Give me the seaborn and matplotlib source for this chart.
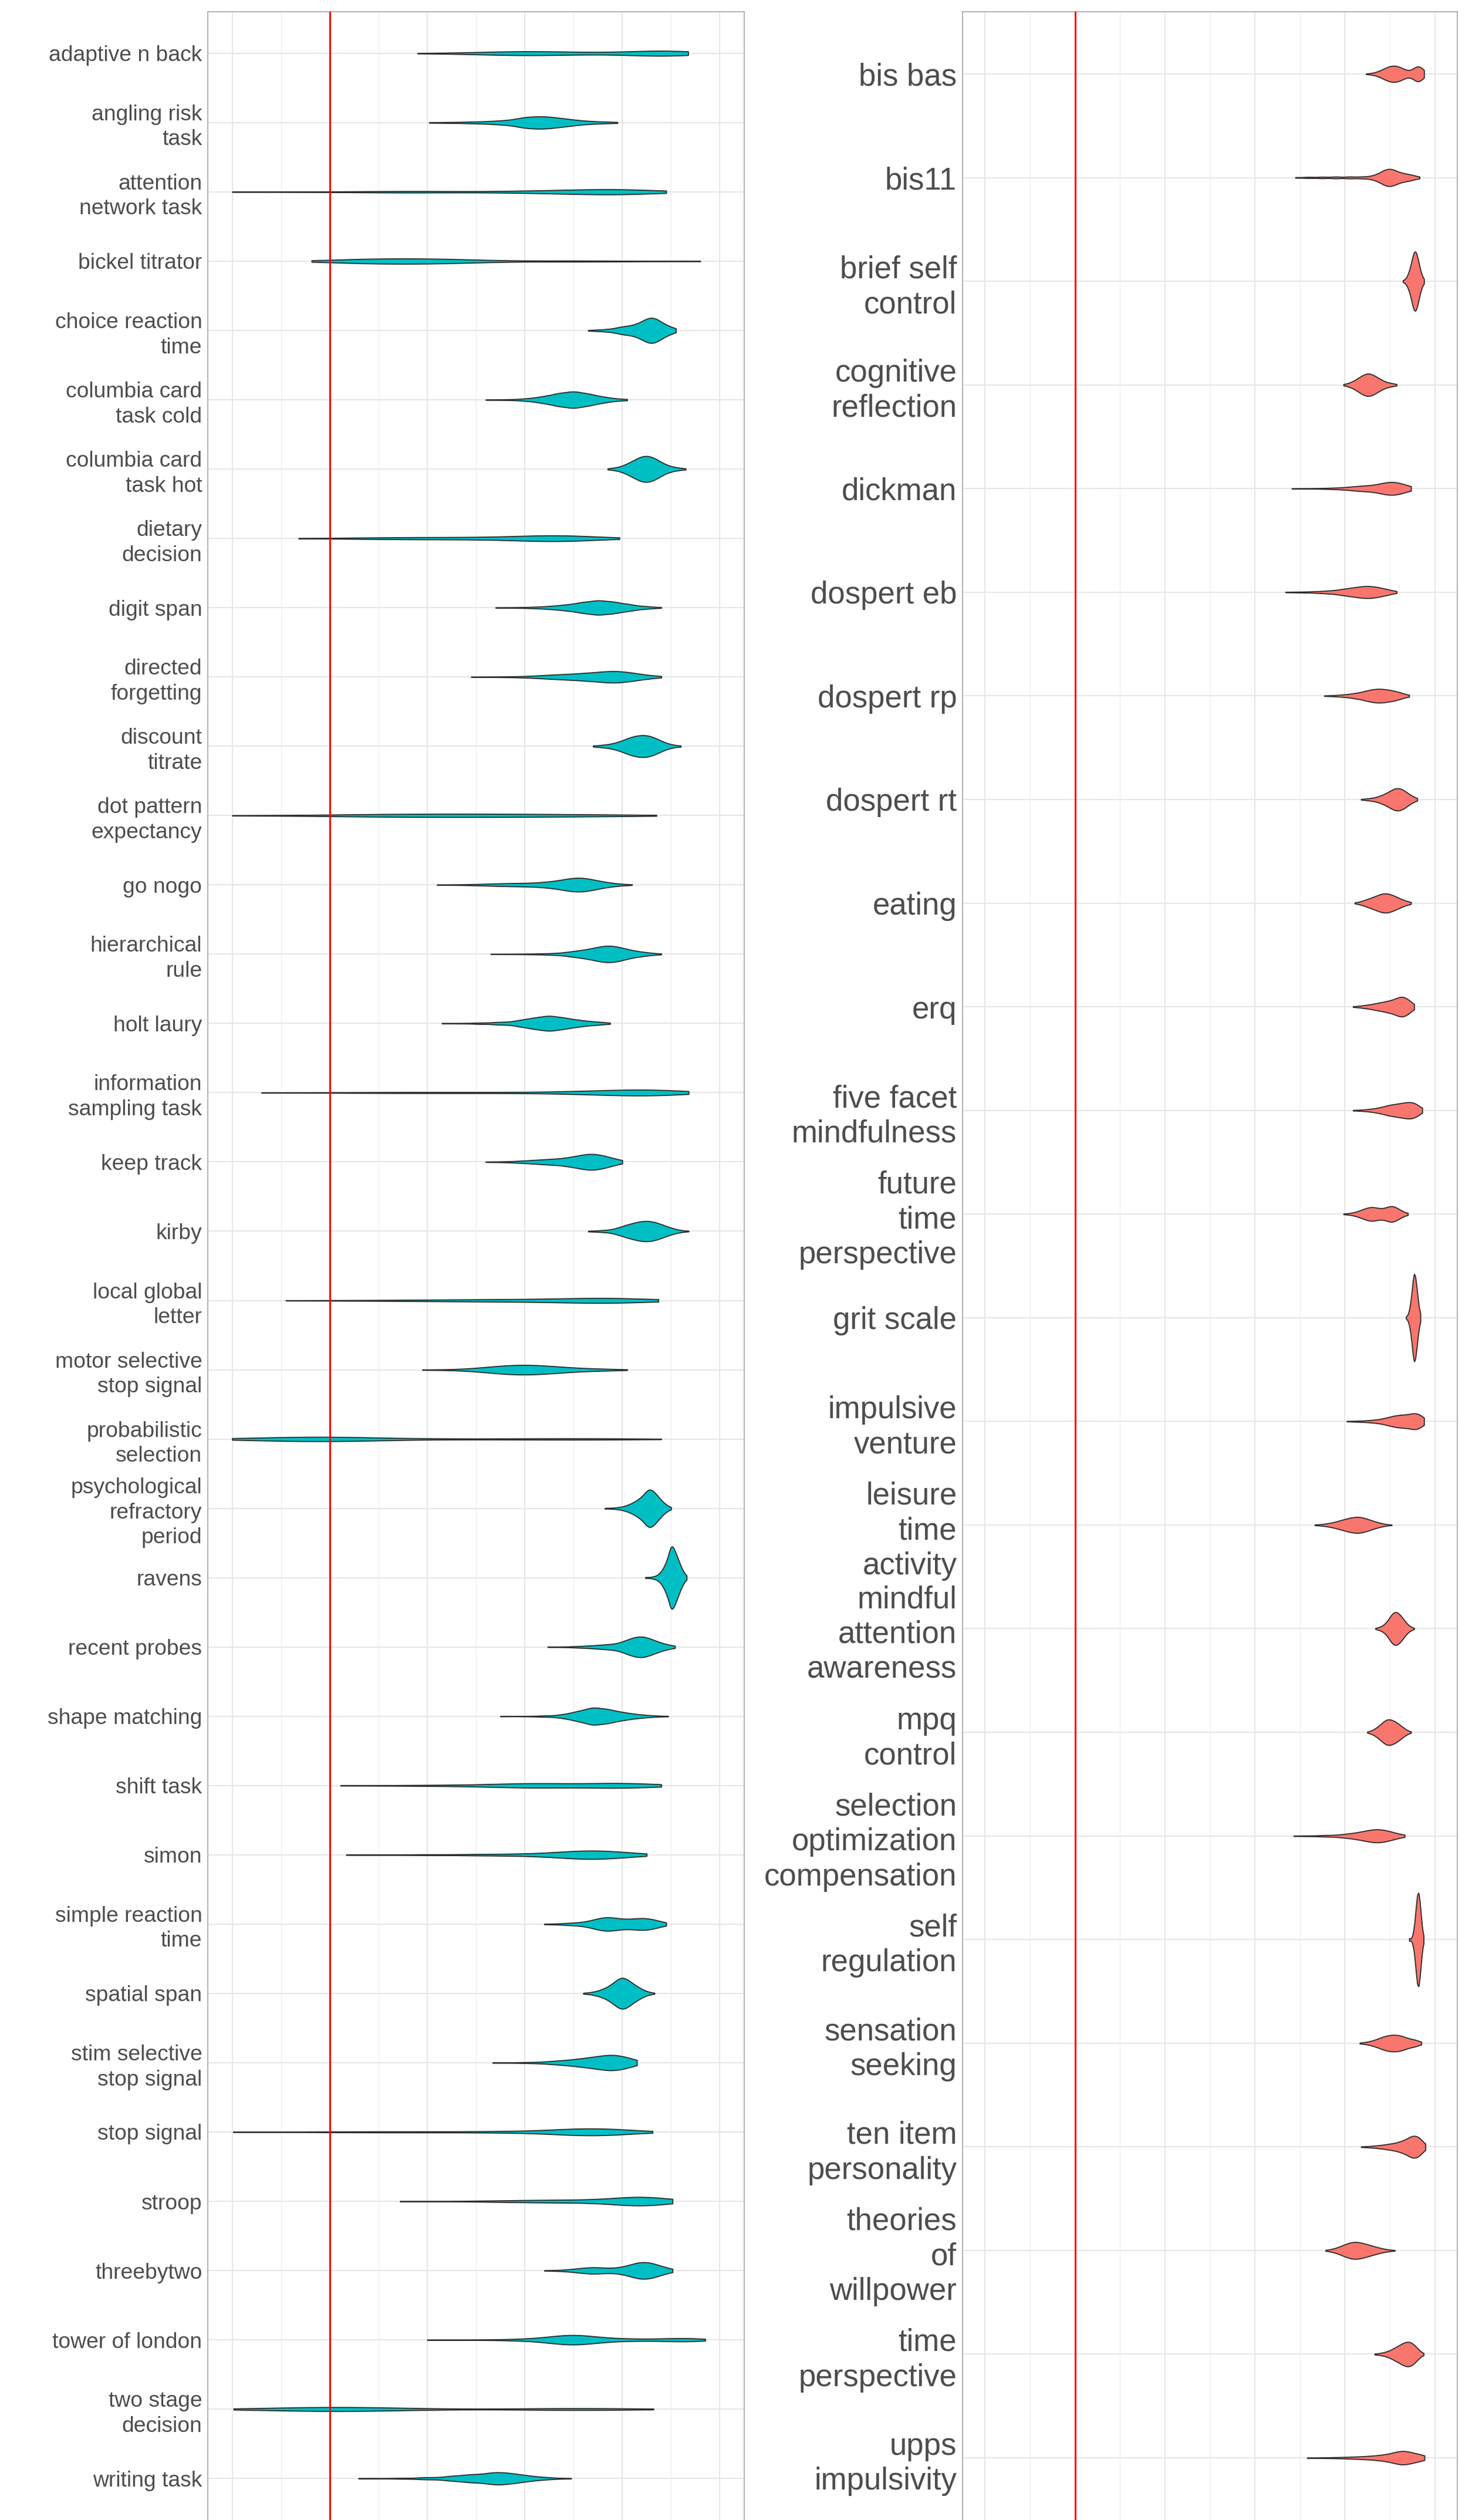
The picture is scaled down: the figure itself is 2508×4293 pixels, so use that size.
#!/usr/bin/env python3
"""
Violin plots of per-measure estimates: behavioural tasks (left) and surveys (right),
with a red reference line at zero.
"""

import numpy as np
import pandas as pd
import matplotlib
matplotlib.use("Agg")
import matplotlib.pyplot as plt
import seaborn as sns

# ─── Data ────────────────────────────────────────────────────────────────────
# each violin is given as (value, count) pairs
TASKS = [
    "adaptive n back", "angling risk task", "attention network task", "bickel titrator",
    "choice reaction time", "columbia card task cold", "columbia card task hot",
    "dietary decision", "digit span", "directed forgetting", "discount titrate",
    "dot pattern expectancy", "go nogo", "hierarchical rule", "holt laury",
    "information sampling task", "keep track", "kirby", "local global letter",
    "motor selective stop signal", "probabilistic selection",
    "psychological refractory period", "ravens", "recent probes", "shape matching",
    "shift task", "simon", "simple reaction time", "spatial span",
    "stim selective stop signal", "stop signal", "stroop", "threebytwo",
    "tower of london", "two stage decision", "writing task",
]
TASK_LABELS = [
    "adaptive n back", "angling risk\ntask", "attention\nnetwork task", "bickel titrator",
    "choice reaction\ntime", "columbia card\ntask cold", "columbia card\ntask hot",
    "dietary\ndecision", "digit span", "directed\nforgetting", "discount\ntitrate",
    "dot pattern\nexpectancy", "go nogo", "hierarchical\nrule", "holt laury",
    "information\nsampling task", "keep track", "kirby", "local global\nletter",
    "motor selective\nstop signal", "probabilistic\nselection",
    "psychological\nrefractory\nperiod", "ravens", "recent probes", "shape matching",
    "shift task", "simon", "simple reaction\ntime", "spatial span",
    "stim selective\nstop signal", "stop signal", "stroop", "threebytwo",
    "tower of london", "two stage\ndecision", "writing task",
]
TASK_PROFILES = [
    [(0.18, 1), (0.25, 2), (0.30, 4), (0.35, 7), (0.40, 10), (0.45, 8), (0.50, 5), (0.55, 4), (0.60, 4), (0.64, 4), (0.665, 7), (0.685, 9), (0.71, 7), (0.735, 4)],
    [(0.204, 1), (0.25, 2), (0.30, 4), (0.35, 8), (0.40, 20), (0.44, 22), (0.48, 14), (0.52, 6), (0.56, 3), (0.59, 1)],
    [(-0.2, 1), (-0.1, 1), (0.0, 2), (0.1, 3), (0.17, 4), (0.25, 3), (0.35, 3), (0.42, 6), (0.5, 10), (0.57, 12), (0.62, 8), (0.66, 4), (0.69, 1)],
    [(-0.037, 1), (0.0, 4), (0.05, 8), (0.1, 10), (0.15, 10), (0.2, 10), (0.25, 8), (0.3, 5), (0.35, 3), (0.45, 3), (0.52, 3), (0.6, 2), (0.7, 1), (0.76, 1)],
    [(0.53, 1), (0.545, 2), (0.56, 3), (0.575, 5), (0.59, 7), (0.60, 8), (0.61, 9), (0.62, 10), (0.63, 13), (0.64, 18), (0.65, 24), (0.66, 28), (0.67, 24), (0.68, 17), (0.69, 11), (0.70, 7), (0.71, 4)],
    [(0.32, 1), (0.35, 1), (0.38, 2), (0.41, 6), (0.44, 14), (0.47, 26), (0.50, 34), (0.53, 24), (0.56, 12), (0.59, 4), (0.61, 1)],
    [(0.57, 1), (0.58, 2), (0.59, 3), (0.60, 6), (0.61, 10), (0.62, 15), (0.63, 20), (0.64, 25), (0.65, 26), (0.66, 24), (0.67, 19), (0.68, 13), (0.69, 8), (0.70, 5), (0.71, 3), (0.72, 2), (0.73, 1)],
    [(-0.064, 1), (0.0, 1), (0.05, 2), (0.1, 3), (0.15, 4), (0.2, 4), (0.25, 4), (0.3, 4), (0.35, 5), (0.40, 8), (0.45, 14), (0.5, 12), (0.55, 4), (0.594, 1)],
    [(0.34, 1), (0.37, 1), (0.40, 2), (0.43, 4), (0.46, 8), (0.49, 14), (0.52, 24), (0.55, 32), (0.58, 26), (0.61, 16), (0.64, 6), (0.66, 2), (0.68, 1)],
    [(0.29, 1), (0.33, 1), (0.37, 2), (0.41, 4), (0.45, 10), (0.49, 14), (0.53, 20), (0.57, 26), (0.60, 22), (0.63, 12), (0.66, 4), (0.68, 1)],
    [(0.54, 1), (0.55, 2), (0.56, 3), (0.57, 4), (0.58, 6), (0.59, 9), (0.60, 13), (0.61, 18), (0.62, 22), (0.63, 25), (0.64, 26), (0.65, 26), (0.66, 23), (0.67, 18), (0.68, 12), (0.69, 7), (0.70, 4), (0.71, 2), (0.72, 1)],
    [(-0.2, 1), (-0.15, 1), (-0.1, 1), (-0.05, 2), (0.0, 2), (0.05, 4), (0.1, 6), (0.15, 6), (0.2, 6), (0.25, 6), (0.3, 6), (0.35, 6), (0.4, 6), (0.45, 5), (0.5, 4), (0.55, 4), (0.6, 3), (0.65, 2), (0.67, 1)],
    [(0.22, 1), (0.25, 1), (0.28, 2), (0.31, 4), (0.34, 6), (0.37, 8), (0.40, 9), (0.43, 9), (0.45, 10), (0.47, 13), (0.49, 22), (0.51, 28), (0.53, 22), (0.55, 13), (0.57, 7), (0.59, 4), (0.62, 1)],
    [(0.33, 1), (0.37, 1), (0.41, 2), (0.45, 4), (0.49, 10), (0.52, 18), (0.55, 28), (0.575, 34), (0.60, 24), (0.63, 12), (0.655, 4), (0.68, 1)],
    [(0.23, 1), (0.27, 1), (0.31, 3), (0.35, 6), (0.39, 12), (0.42, 20), (0.45, 28), (0.48, 20), (0.51, 12), (0.54, 6), (0.56, 2), (0.575, 1)],
    [(-0.14, 1), (-0.05, 1), (0.05, 2), (0.15, 3), (0.25, 3), (0.35, 3), (0.45, 4), (0.52, 6), (0.58, 8), (0.63, 10), (0.68, 8), (0.71, 4), (0.736, 1)],
    [(0.32, 1), (0.35, 1), (0.38, 3), (0.41, 6), (0.44, 10), (0.47, 12), (0.50, 20), (0.53, 32), (0.555, 22), (0.575, 10), (0.59, 4), (0.60, 1)],
    [(0.53, 1), (0.545, 2), (0.56, 3), (0.575, 5), (0.59, 8), (0.60, 11), (0.61, 14), (0.62, 17), (0.63, 20), (0.64, 22), (0.65, 23), (0.66, 22), (0.67, 19), (0.68, 15), (0.69, 11), (0.70, 7), (0.71, 4), (0.72, 2), (0.736, 1)],
    [(-0.09, 1), (0.0, 1), (0.1, 2), (0.2, 4), (0.3, 5), (0.38, 5), (0.45, 4), (0.5, 5), (0.55, 8), (0.59, 8), (0.63, 4), (0.674, 1)],
    [(0.19, 1), (0.23, 1), (0.27, 3), (0.31, 8), (0.35, 16), (0.39, 20), (0.43, 18), (0.47, 12), (0.51, 7), (0.55, 4), (0.58, 2), (0.61, 1)],
    [(-0.2, 1), (-0.15, 3), (-0.1, 6), (-0.05, 8), (0.0, 8), (0.05, 6), (0.1, 4), (0.2, 2), (0.3, 2), (0.4, 3), (0.5, 4), (0.58, 3), (0.68, 1)],
    [(0.564, 1), (0.572, 1), (0.58, 1), (0.588, 2), (0.596, 3), (0.604, 5), (0.612, 8), (0.62, 12), (0.628, 17), (0.636, 23), (0.644, 29), (0.651, 35), (0.657, 36), (0.663, 31), (0.669, 25), (0.675, 19), (0.681, 13), (0.687, 8), (0.693, 4), (0.70, 2)],
    [(0.647, 1), (0.652, 1), (0.657, 1), (0.662, 2), (0.667, 3), (0.672, 5), (0.677, 9), (0.682, 15), (0.687, 24), (0.692, 36), (0.697, 48), (0.701, 52), (0.705, 48), (0.709, 40), (0.713, 32), (0.717, 24), (0.721, 16), (0.725, 10), (0.729, 5), (0.732, 2)],
    [(0.447, 1), (0.48, 1), (0.51, 3), (0.54, 6), (0.57, 10), (0.60, 14), (0.62, 24), (0.64, 32), (0.66, 20), (0.68, 10), (0.70, 3), (0.708, 1)],
    [(0.35, 1), (0.40, 1), (0.44, 3), (0.48, 8), (0.51, 20), (0.54, 36), (0.57, 28), (0.60, 16), (0.63, 8), (0.66, 3), (0.694, 1)],
    [(0.022, 1), (0.1, 1), (0.2, 3), (0.3, 5), (0.38, 7), (0.42, 8), (0.47, 6), (0.53, 5), (0.58, 7), (0.61, 8), (0.65, 4), (0.68, 1)],
    [(0.034, 1), (0.1, 1), (0.2, 2), (0.3, 3), (0.38, 4), (0.45, 6), (0.5, 9), (0.54, 10), (0.58, 8), (0.62, 4), (0.65, 1)],
    [(0.44, 1), (0.47, 2), (0.50, 6), (0.53, 8), (0.55, 14), (0.567, 20), (0.585, 16), (0.605, 12), (0.625, 14), (0.645, 20), (0.665, 12), (0.68, 4), (0.69, 1)],
    [(0.52, 1), (0.528, 1), (0.536, 2), (0.544, 3), (0.552, 5), (0.56, 7), (0.568, 10), (0.576, 14), (0.584, 19), (0.592, 25), (0.60, 28), (0.608, 25), (0.616, 20), (0.624, 15), (0.632, 11), (0.64, 7), (0.648, 4), (0.656, 2), (0.666, 1)],
    [(0.334, 1), (0.37, 1), (0.41, 3), (0.45, 6), (0.48, 10), (0.51, 16), (0.54, 24), (0.57, 32), (0.595, 24), (0.615, 12), (0.63, 4)],
    [(-0.198, 1), (-0.1, 1), (0.0, 2), (0.1, 3), (0.2, 3), (0.3, 3), (0.38, 4), (0.45, 6), (0.5, 9), (0.54, 10), (0.58, 8), (0.62, 4), (0.662, 1)],
    [(0.144, 1), (0.22, 1), (0.3, 2), (0.36, 4), (0.42, 6), (0.48, 7), (0.54, 7), (0.59, 8), (0.62, 12), (0.645, 14), (0.67, 8), (0.69, 4), (0.703, 1)],
    [(0.44, 1), (0.47, 2), (0.50, 6), (0.525, 10), (0.546, 12), (0.57, 8), (0.595, 10), (0.62, 22), (0.643, 34), (0.665, 22), (0.685, 10), (0.703, 2)],
    [(0.2, 1), (0.27, 1), (0.33, 2), (0.39, 5), (0.44, 10), (0.48, 16), (0.50, 18), (0.53, 14), (0.57, 8), (0.61, 5), (0.65, 4), (0.69, 4), (0.72, 7), (0.745, 6), (0.77, 1)],
    [(-0.197, 2), (-0.15, 4), (-0.1, 8), (-0.05, 12), (0.0, 14), (0.05, 14), (0.1, 10), (0.15, 6), (0.2, 4), (0.3, 2), (0.4, 5), (0.48, 11), (0.55, 8), (0.62, 4), (0.664, 2)],
    [(0.059, 1), (0.1, 1), (0.15, 2), (0.2, 5), (0.25, 10), (0.29, 16), (0.33, 20), (0.36, 18), (0.39, 12), (0.42, 6), (0.45, 3), (0.495, 1)],
]

SURVEYS = [
    "bis bas", "bis11", "brief self control", "cognitive reflection", "dickman",
    "dospert eb", "dospert rp", "dospert rt", "eating", "erq",
    "five facet mindfulness", "future time perspective", "grit scale",
    "impulsive venture", "leisure time activity", "mindful attention awareness",
    "mpq control", "selection optimization compensation", "self regulation",
    "sensation seeking", "ten item personality", "theories of willpower",
    "time perspective", "upps impulsivity",
]
SURVEY_LABELS = [
    "bis bas", "bis11", "brief self\ncontrol", "cognitive\nreflection", "dickman",
    "dospert eb", "dospert rp", "dospert rt", "eating", "erq",
    "five facet\nmindfulness", "future\ntime\nperspective", "grit scale",
    "impulsive\nventure", "leisure\ntime\nactivity", "mindful\nattention\nawareness",
    "mpq\ncontrol", "selection\noptimization\ncompensation", "self\nregulation",
    "sensation\nseeking", "ten item\npersonality", "theories\nof\nwillpower",
    "time\nperspective", "upps\nimpulsivity",
]
SURVEY_PROFILES = [
    [(0.647, 1), (0.655, 2), (0.663, 4), (0.671, 8), (0.679, 14), (0.687, 22), (0.695, 30), (0.703, 35), (0.711, 36), (0.719, 33), (0.727, 25), (0.735, 15), (0.741, 8), (0.747, 5), (0.752, 9), (0.757, 22), (0.762, 30), (0.767, 26), (0.772, 14), (0.776, 5)],
    [(0.49, 2), (0.52, 4), (0.55, 5), (0.58, 6), (0.61, 6), (0.635, 5), (0.655, 5), (0.668, 8), (0.68, 14), (0.69, 22), (0.70, 25), (0.71, 20), (0.72, 12), (0.73, 10), (0.74, 10), (0.75, 6), (0.758, 3), (0.766, 1)],
    [(0.729, 1), (0.732, 2), (0.735, 3), (0.738, 6), (0.741, 10), (0.744, 15), (0.747, 22), (0.750, 30), (0.753, 37), (0.756, 40), (0.759, 37), (0.762, 30), (0.765, 22), (0.768, 14), (0.771, 8), (0.774, 4), (0.776, 2)],
    [(0.597, 1), (0.605, 2), (0.613, 4), (0.621, 7), (0.629, 11), (0.637, 15), (0.645, 19), (0.653, 20), (0.661, 18), (0.669, 14), (0.677, 10), (0.685, 7), (0.693, 4), (0.701, 3), (0.708, 2), (0.715, 1)],
    [(0.482, 1), (0.51, 1), (0.54, 2), (0.57, 4), (0.6, 7), (0.625, 11), (0.645, 12), (0.665, 14), (0.685, 20), (0.70, 24), (0.715, 22), (0.73, 13), (0.74, 6), (0.747, 2)],
    [(0.468, 1), (0.49, 2), (0.515, 3), (0.54, 5), (0.565, 9), (0.59, 14), (0.61, 19), (0.63, 24), (0.648, 26), (0.665, 22), (0.68, 15), (0.695, 9), (0.705, 4), (0.715, 1)],
    [(0.554, 1), (0.572, 2), (0.59, 4), (0.608, 7), (0.626, 12), (0.644, 18), (0.66, 23), (0.675, 25), (0.69, 23), (0.705, 18), (0.718, 12), (0.73, 6), (0.743, 2)],
    [(0.636, 1), (0.644, 2), (0.652, 3), (0.66, 4), (0.668, 6), (0.676, 9), (0.684, 13), (0.692, 18), (0.70, 24), (0.708, 30), (0.716, 34), (0.724, 32), (0.732, 26), (0.74, 18), (0.748, 10), (0.755, 5), (0.761, 2)],
    [(0.622, 1), (0.63, 3), (0.638, 6), (0.646, 10), (0.654, 14), (0.662, 18), (0.67, 22), (0.678, 27), (0.686, 30), (0.694, 30), (0.702, 27), (0.71, 22), (0.718, 17), (0.726, 12), (0.734, 7), (0.741, 4), (0.747, 2)],
    [(0.618, 1), (0.628, 2), (0.638, 4), (0.648, 6), (0.658, 8), (0.668, 11), (0.678, 14), (0.688, 17), (0.698, 20), (0.708, 24), (0.718, 28), (0.726, 30), (0.734, 27), (0.742, 18), (0.748, 9), (0.754, 3)],
    [(0.618, 1), (0.63, 2), (0.642, 3), (0.654, 5), (0.666, 8), (0.678, 12), (0.69, 16), (0.70, 19), (0.71, 21), (0.72, 23), (0.73, 26), (0.74, 29), (0.75, 27), (0.758, 20), (0.765, 10), (0.772, 3)],
    [(0.597, 1), (0.607, 2), (0.617, 4), (0.627, 8), (0.637, 14), (0.647, 21), (0.657, 25), (0.666, 21), (0.674, 15), (0.682, 13), (0.69, 16), (0.698, 21), (0.705, 23), (0.712, 20), (0.72, 13), (0.728, 7), (0.735, 3), (0.74, 1)],
    [(0.736, 1), (0.739, 2), (0.742, 5), (0.745, 11), (0.748, 20), (0.751, 32), (0.754, 40), (0.757, 36), (0.760, 26), (0.763, 15), (0.766, 6), (0.768, 2)],
    [(0.604, 1), (0.62, 2), (0.636, 3), (0.652, 5), (0.668, 8), (0.684, 12), (0.698, 17), (0.71, 21), (0.722, 23), (0.732, 19), (0.741, 16), (0.749, 19), (0.757, 23), (0.764, 20), (0.77, 11), (0.776, 4)],
    [(0.533, 1), (0.545, 2), (0.557, 4), (0.569, 7), (0.581, 11), (0.593, 16), (0.605, 21), (0.617, 25), (0.629, 27), (0.641, 24), (0.653, 18), (0.665, 12), (0.677, 7), (0.689, 3), (0.704, 1)],
    [(0.668, 1), (0.673, 2), (0.678, 3), (0.683, 5), (0.688, 8), (0.693, 12), (0.698, 18), (0.703, 25), (0.708, 30), (0.713, 31), (0.718, 29), (0.723, 25), (0.728, 20), (0.733, 14), (0.738, 9), (0.743, 5), (0.748, 3), (0.754, 1)],
    [(0.65, 1), (0.656, 2), (0.662, 4), (0.668, 7), (0.674, 11), (0.68, 15), (0.686, 20), (0.692, 24), (0.698, 25), (0.704, 23), (0.71, 21), (0.716, 18), (0.722, 14), (0.728, 10), (0.734, 6), (0.74, 3), (0.747, 1)],
    [(0.486, 1), (0.52, 2), (0.56, 5), (0.6, 10), (0.63, 16), (0.655, 22), (0.675, 24), (0.695, 18), (0.715, 8), (0.733, 2)],
    [(0.743, 3), (0.746, 1), (0.749, 4), (0.752, 12), (0.755, 28), (0.758, 52), (0.761, 74), (0.764, 78), (0.767, 60), (0.770, 34), (0.773, 12), (0.775, 3)],
    [(0.633, 1), (0.643, 2), (0.653, 4), (0.663, 7), (0.673, 11), (0.683, 16), (0.693, 20), (0.703, 22), (0.713, 22), (0.723, 20), (0.732, 15), (0.741, 10), (0.749, 8), (0.757, 8), (0.764, 4), (0.77, 1)],
    [(0.636, 1), (0.648, 2), (0.66, 3), (0.672, 5), (0.684, 7), (0.696, 10), (0.708, 13), (0.72, 16), (0.73, 19), (0.74, 23), (0.748, 27), (0.756, 29), (0.764, 25), (0.771, 15), (0.779, 4)],
    [(0.557, 1), (0.567, 3), (0.577, 6), (0.587, 11), (0.597, 17), (0.607, 23), (0.617, 27), (0.627, 27), (0.637, 24), (0.647, 20), (0.657, 16), (0.667, 12), (0.677, 8), (0.687, 5), (0.698, 3), (0.711, 1)],
    [(0.666, 1), (0.672, 1), (0.678, 2), (0.684, 3), (0.69, 4), (0.696, 6), (0.702, 8), (0.708, 11), (0.714, 14), (0.72, 17), (0.726, 20), (0.732, 23), (0.738, 25), (0.744, 25), (0.75, 22), (0.756, 17), (0.762, 11), (0.768, 5), (0.775, 1)],
    [(0.516, 1), (0.53, 1), (0.545, 1), (0.56, 2), (0.575, 2), (0.59, 3), (0.605, 4), (0.62, 5), (0.635, 6), (0.65, 8), (0.665, 10), (0.68, 13), (0.695, 17), (0.71, 22), (0.722, 25), (0.732, 26), (0.742, 20), (0.752, 12), (0.76, 8), (0.767, 9), (0.772, 8), (0.777, 3)],
]

TASK_COLOR = "#00BFC4"
SURVEY_COLOR = "#F8766D"
X_LIMITS = (-0.25, 0.85)
X_MAJOR = [-0.2, 0.0, 0.2, 0.4, 0.6, 0.8]
X_MINOR = [-0.1, 0.1, 0.3, 0.5, 0.7]

# ─── Figure geometry (pixels of the 2508 x 4293 output) ──────────────────────
W, H, DPI = 2508, 4293, 100
TOP = 20


def nrd0(kde):
    # R's default bandwidth rule (0.9 * min(sd, IQR/1.34) * n^-1/5), as a factor of sd
    x = np.asarray(kde.dataset).ravel()
    sd = x.std(ddof=1)
    iqr = np.subtract(*np.percentile(x, [75, 25]))
    lo = min(sd, iqr / 1.34) if iqr > 0 else sd
    return 0.9 * lo * x.size ** (-0.2) / sd


def long_frame(names, profiles):
    rows = []
    for name, prof in zip(names, profiles):
        vals = np.array([p[0] for p in prof], dtype=float)
        cnts = np.array([p[1] for p in prof], dtype=int)
        rows.append(pd.DataFrame({"measure": name, "value": np.repeat(vals, cnts)}))
    return pd.concat(rows, ignore_index=True)


def draw_panel(ax, names, labels, profiles, color, fontsize, linespacing):
    df = long_frame(names, profiles)
    sns.violinplot(data=df, x="value", y="measure", order=names, orient="h",
                   color=color, saturation=1, inner=None, cut=0, width=0.9,
                   bw_method=nrd0, bw_adjust=1.05, gridsize=250,
                   density_norm="area", linewidth=1.3, linecolor="#2B2B2B", ax=ax)
    ax.axvline(0, color="red", lw=2.2, zorder=5)

    ax.set_xlim(*X_LIMITS)
    ax.set_ylim(len(names) - 0.4, -0.6)
    ax.set_xticks(X_MAJOR)
    ax.set_xticks(X_MINOR, minor=True)
    ax.set_yticks(range(len(names)))
    ax.set_yticklabels(labels, fontsize=fontsize, color="#4D4D4D",
                       linespacing=linespacing)
    ax.set_xlabel("")
    ax.set_ylabel("")

    ax.set_axisbelow(True)
    ax.grid(which="major", color="#E6E6E6", lw=1.4)
    ax.grid(which="minor", axis="x", color="#EFEFEF", lw=1.0)
    ax.tick_params(axis="x", which="both", length=0, labelbottom=False)
    ax.tick_params(axis="y", length=5, width=1, color="#999999", pad=2)
    for sp in ax.spines.values():
        sp.set_color("#A6A6A6")
        sp.set_linewidth(1.2)
    ax.spines["bottom"].set_visible(False)


def main():
    sns.set_style("white")
    plt.rcParams["font.family"] = ["Liberation Sans", "DejaVu Sans"]

    fig = plt.figure(figsize=(W / DPI, H / DPI), dpi=DPI)
    ax_l = fig.add_axes([354 / W, 0, (1268 - 354) / W, (H - TOP) / H])
    ax_r = fig.add_axes([1640 / W, 0, (2483 - 1640) / W, (H - TOP) / H])

    draw_panel(ax_l, TASKS, TASK_LABELS, TASK_PROFILES, TASK_COLOR, 26.8, 1.28)
    draw_panel(ax_r, SURVEYS, SURVEY_LABELS, SURVEY_PROFILES, SURVEY_COLOR, 38, 1.25)

    fig.savefig("out.png", dpi=DPI, facecolor="white")
    plt.close(fig)


if __name__ == "__main__":
    main()
